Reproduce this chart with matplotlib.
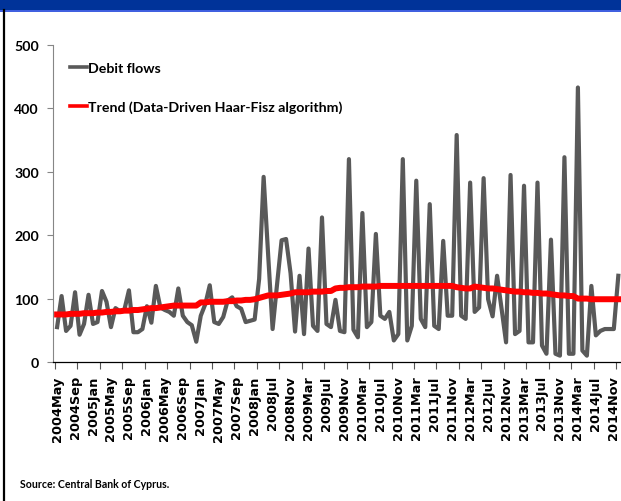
import matplotlib.pyplot as plt
from matplotlib.patches import Rectangle
from matplotlib.lines import Line2D

# Monthly debit flows (EUR million), May 2004 onwards
debit_flows = [
    55, 104, 49, 57, 110, 43, 60, 106, 60, 63,
    112, 95, 55, 85, 80, 83, 113, 47, 47, 52,
    88, 62, 120, 86, 82, 79, 73, 116, 73, 63,
    58, 32, 73, 91, 121, 63, 60, 71, 97, 102,
    88, 84, 63, 65, 67, 131, 292, 170, 52, 123,
    192, 194, 140, 48, 136, 44, 179, 57, 49, 228,
    60, 55, 98, 49, 47, 320, 51, 39, 235, 55,
    63, 202, 73, 68, 79, 34, 44, 320, 34, 57,
    286, 68, 55, 249, 57, 52, 191, 73, 73, 358,
    73, 68, 283, 79, 86, 290, 99, 72, 136, 84,
    31, 295, 44, 49, 278, 31, 31, 283, 26, 13,
    193, 13, 10, 323, 13, 13, 433, 18, 10, 120,
    42, 49, 52, 52, 52, 136,
]

# Trend estimated with the data-driven Haar-Fisz algorithm
trend = [
    75, 75, 75, 76, 76, 76, 77, 77, 77, 78, 78,
    79, 79, 80, 80, 81, 81, 82, 82, 83, 84,
    85, 85, 86, 87, 88, 89, 89, 89, 89, 89, 89,
    94, 94, 95, 95, 95, 95, 96, 96, 97, 97, 98, 98, 99,
    101, 103, 105, 105, 105, 106, 107, 108, 110,
    110, 110, 110, 111, 111, 111, 112, 112,
    116, 117, 117, 118, 118, 118, 119, 119, 119, 119, 120, 120, 120, 120,
    120, 120, 120, 120, 120, 120, 120, 120, 120, 120, 120, 120, 120,
    118, 117, 116, 116,
    119, 118, 117, 116, 116,
    115, 114, 113, 112, 111, 111, 110, 110, 109,
    109, 108, 108, 107, 106, 105, 105, 104, 104,
    100, 100, 100, 99, 99, 99, 99, 99, 99, 99,
]

# Category labels, shown on every fourth month
month_labels = [
    '2004May', '2004Sep', '2005Jan', '2005May', '2005Sep', '2006Jan',
    '2006May', '2006Sep', '2007Jan', '2007May', '2007Sep', '2008Jan',
    '2008Jul', '2008Nov', '2009Mar', '2009Jul', '2009Nov', '2010Mar',
    '2010Jul', '2010Nov', '2011Mar', '2011Jul', '2011Nov', '2012Mar',
    '2012Jul', '2012Nov', '2013Mar', '2013Jul', '2013Nov', '2014Mar',
    '2014Jul', '2014Nov',
]

label_font = ['Lato', 'DejaVu Sans']

W, H = 621, 502
fig = plt.figure(figsize=(W / 100, H / 100), dpi=100)

# header band and left border of the panel
fig.patches.append(Rectangle((0, 1 - 11 / H), 1, 11 / H, transform=fig.transFigure,
                             facecolor='#003399', edgecolor='none'))
fig.patches.append(Rectangle((0, 1 - 12.5 / H), 1, 1.8 / H, transform=fig.transFigure,
                             facecolor='#4060e0', edgecolor='none'))
fig.lines.append(Line2D([4 / W, 4 / W], [0, 1 - 11 / H], transform=fig.transFigure,
                        color='black', linewidth=1.6))

ax = fig.add_axes([52.7 / W, (H - 363) / H, (W - 52.7) / W, (363 - 46) / H])

x = list(range(len(debit_flows)))
ax.plot(x, debit_flows, color='#595959', linewidth=3.0, label='Debit flows',
        solid_joinstyle='round')
ax.plot(x, trend, color='#ff0000', linewidth=4.3, label='Trend (Data-Driven Haar-Fisz algorithm)',
        solid_joinstyle='round')

ax.set_xlim(-0.98, 125.6)
ax.set_ylim(0, 500)

ax.set_yticks(range(0, 501, 100))
for lab in ax.set_yticklabels([str(v) for v in range(0, 501, 100)]):
    lab.set_family(label_font)
    lab.set_fontweight('bold')
    lab.set_fontsize(10.2)
ax.tick_params(axis='y', direction='out', length=4, width=0.8, color='#868686', pad=6)

label_pos = [4 * k for k in range(len(month_labels))]
ax.set_xticks(label_pos)
ax.set_xticklabels(month_labels, rotation=90, fontsize=9.3, fontweight='bold',
                   family='DejaVu Sans')
ax.tick_params(axis='x', which='major', length=0, pad=9.5)
ax.set_xticks([-0.5 + 5 * k for k in range(26)], minor=True)
ax.tick_params(axis='x', which='minor', direction='out', length=5, width=0.8, color='#555555')

ax.spines['top'].set_visible(False)
ax.spines['right'].set_visible(False)
ax.spines['left'].set_color('#868686')
ax.spines['left'].set_linewidth(0.8)
ax.spines['bottom'].set_color('#000000')
ax.spines['bottom'].set_linewidth(0.9)

leg = ax.legend(loc='upper left', bbox_to_anchor=(70 / W, 1 - 63 / H),
                bbox_transform=fig.transFigure, frameon=False, borderpad=0,
                borderaxespad=0, handlelength=1.2, handletextpad=0.08,
                labelspacing=1.85, prop={'family': label_font, 'weight': 'bold', 'size': 10.2})
for handle in leg.get_lines():
    handle.set_linewidth(2.6)

fig.text(20 / W, 1 - 485 / H, 'Source: Central Bank of Cyprus.', va='center', ha='left',
         fontsize=7.6, fontweight='bold', family=label_font)

fig.savefig('out.png', dpi=100)
